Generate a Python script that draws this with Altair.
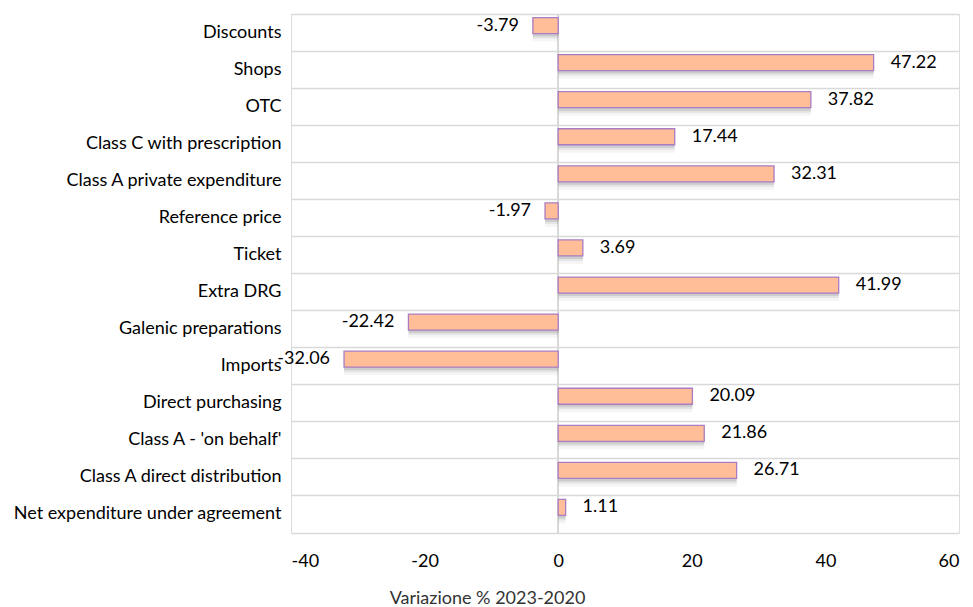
import altair as alt
import pandas as pd

# Percentage change of pharmaceutical expenditure items, 2023 vs 2020
categories = [
    "Discounts",
    "Shops",
    "OTC",
    "Class C with prescription",
    "Class A private expenditure",
    "Reference price",
    "Ticket",
    "Extra DRG",
    "Galenic preparations",
    "Imports",
    "Direct purchasing",
    "Class A - 'on behalf'",
    "Class A direct distribution",
    "Net expenditure under agreement",
]
values = [-3.79, 47.22, 37.82, 17.44, 32.31, -1.97, 3.69, 41.99,
          -22.42, -32.06, 20.09, 21.86, 26.71, 1.11]
x_ticks = [-40, -20, 0, 20, 40, 60]

df = pd.DataFrame({"category": categories, "value": values})
df["label"] = df["value"].map(lambda v: f"{v:.2f}")

FONT = "Lato"
FS = 18
y_enc = alt.Y(
    "category:N",
    sort=categories,
    scale=alt.Scale(paddingInner=0, paddingOuter=0),
    axis=alt.Axis(
        title=None, ticks=False, domain=False,
        grid=True, bandPosition=0, gridColor="#D9D9D9", gridWidth=1.5,
        labelFont=FONT, labelFontSize=FS, labelColor="#000000",
        labelPadding=10, labelLimit=400,
    ),
)
x_scale = alt.Scale(domain=[-40, 60], nice=False, zero=False)
x_enc = alt.X(
    "value:Q",
    scale=x_scale,
    axis=alt.Axis(
        values=x_ticks, grid=False, ticks=False,
        labelExpr="'' + datum.value",
        domain=True, domainColor="#D9D9D9", domainWidth=1.5,
        labelFont=FONT, labelFontSize=FS, labelColor="#000000",
        labelPadding=19,
        title="Variazione % 2023-2020", titleFont=FONT, titleFontSize=FS,
        titleFontWeight="normal", titleColor="#333333",
        titlePadding=19, titleX=196, titleAlign="center",
    ),
)

base = alt.Chart(df)

zero_line = base.mark_rule(color="#D9D9D9", strokeWidth=1.5).encode(
    x=alt.datum(0, scale=x_scale)
)

# soft drop shadow underneath each bar, built from fading gray layers
def shadow(size, y_off, opacity):
    return base.mark_bar(
        size=size, yOffset=y_off, color="#6F6F6F", opacity=opacity,
    ).encode(x=x_enc, x2=alt.datum(0), y=y_enc)

shadows = [shadow(18, 0, 0.07), shadow(16, -2, 0.12), shadow(16, -4, 0.2)]

bars = base.mark_bar(
    size=16, yOffset=-7, color="#FFBE98",
    stroke="#A97CC4", strokeWidth=1.3,
).encode(x=x_enc, x2=alt.datum(0), y=y_enc)

text_style = dict(font=FONT, fontSize=FS, color="#000000",
                  baseline="middle", yOffset=-7)
pos_labels = base.transform_filter("datum.value >= 0").mark_text(
    align="left", dx=17, **text_style
).encode(x=x_enc, y=y_enc, text="label:N")
neg_labels = base.transform_filter("datum.value < 0").mark_text(
    align="right", dx=-14, **text_style
).encode(x=x_enc, y=y_enc, text="label:N")

chart = (
    alt.layer(zero_line, *shadows, bars, pos_labels, neg_labels)
    .properties(
        width=668, height=519,
        autosize=alt.AutoSizeParams(type="none"),
        padding={"left": 291, "top": 14, "right": 14, "bottom": 74},
    )
    .configure_view(stroke=None)
    .configure(background="#FFFFFF")
)

chart.save("out.html", embed_options={"renderer": "svg", "actions": False})
